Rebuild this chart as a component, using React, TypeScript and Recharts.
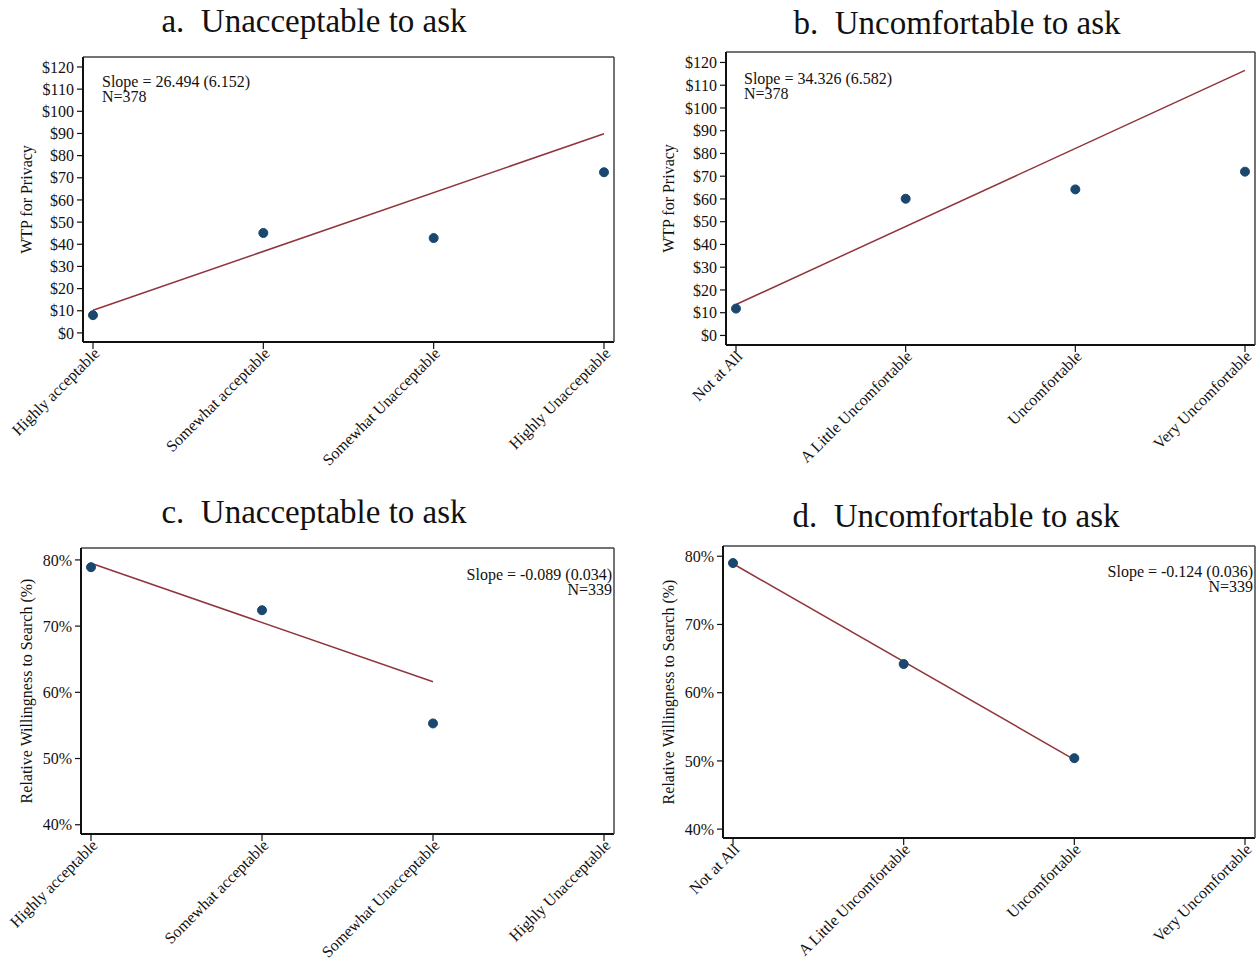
import React from "react";
import { LineChart, Line, XAxis, YAxis } from "recharts";

const acceptCats = ["Highly acceptable", "Somewhat acceptable", "Somewhat Unacceptable", "Highly Unacceptable"];
const comfortCats = ["Not at All", "A Little Uncomfortable", "Uncomfortable", "Very Uncomfortable"];

// WTP for privacy ($)
const wtpAccept = [8.0, 45.1, 42.8, 72.5];
const wtpAcceptFit = [10.2, null, null, 89.9];
const wtpComfort = [11.8, 60.1, 64.2, 72.0];
const wtpComfortFit = [13.6, null, null, 116.5];

// Relative willingness to search (%)
const searchAccept = [78.9, 72.4, 55.3, null];
const searchAcceptFit = [79.5, null, 61.6, null];
const searchComfort = [79.0, 64.2, 50.4, null];
const searchComfortFit = [78.9, null, 50.2, null];

const wtpTicks = [0, 10, 20, 30, 40, 50, 60, 70, 80, 90, 100, 110, 120];
const pctTicks = [40, 50, 60, 70, 80];

const FONT = "'Liberation Serif', 'Times New Roman', serif";
const NAVY = "#1a476f";
const MAROON = "#90353b";

function build(cats: string[], vals: (number | null)[], fit: (number | null)[]) {
  return cats.map((c, i) => ({ cat: c, value: vals[i], fit: fit[i] }));
}

function CatTick(props: any) {
  const { x, y, payload } = props;
  return (
    <g transform={`translate(${x + 4},${y})`}>
      <text
        x={0}
        y={0}
        dy="0.3em"
        textAnchor="end"
        transform="rotate(-45)"
        fontSize={16}
        fontFamily={FONT}
        fill="#111"
      >
        {payload.value}
      </text>
    </g>
  );
}

type PanelProps = {
  left: number;
  top: number;
  width: number;
  height: number;
  yWidth: number;
  margin: { top: number; right: number; bottom: number };
  data: any[];
  domain: [number, number];
  ticks: number[];
  fmt: (v: number) => string;
  yLabel: string;
  labelOffset: number;
};

function Panel(p: PanelProps) {
  return (
    <div style={{ position: "absolute", left: p.left, top: p.top }}>
      <LineChart
        width={p.width}
        height={p.height}
        data={p.data}
        margin={{ top: p.margin.top - 1, right: p.margin.right - 1, bottom: p.margin.bottom, left: 0 }}
      >
        <XAxis
          dataKey="cat"
          interval={0}
          padding={{ left: 10, right: 10 }}
          height={120}
          tickSize={7}
          tickMargin={2}
          axisLine={{ stroke: "#111", strokeWidth: 2 }}
          tickLine={{ stroke: "#111", strokeWidth: 1.2 }}
          tick={<CatTick />}
        />
        {/* top frame of the plot box */}
        <XAxis
          xAxisId="top"
          dataKey="cat"
          orientation="top"
          height={1}
          padding={{ left: 10, right: 10 }}
          tick={false}
          tickLine={false}
          axisLine={{ stroke: "#444", strokeWidth: 1.5 }}
        />
        <YAxis
          width={p.yWidth}
          domain={p.domain}
          ticks={p.ticks}
          interval={0}
          allowDataOverflow
          tickSize={6}
          tickMargin={3}
          tickFormatter={p.fmt}
          axisLine={{ stroke: "#111", strokeWidth: 2 }}
          tickLine={{ stroke: "#111", strokeWidth: 1.2 }}
          tick={{ fontSize: 16, fontFamily: FONT, fill: "#111" }}
          label={{
            value: p.yLabel,
            angle: -90,
            position: "insideLeft",
            offset: p.labelOffset,
            style: { textAnchor: "middle", fontSize: 16, fontFamily: FONT, fill: "#111" },
          }}
        />
        {/* right frame of the plot box */}
        <YAxis
          yAxisId="right"
          orientation="right"
          width={1}
          domain={p.domain}
          allowDataOverflow
          tick={false}
          tickLine={false}
          axisLine={{ stroke: "#444", strokeWidth: 1.5 }}
        />
        <Line
          xAxisId="top"
          yAxisId="right"
          dataKey="fit"
          stroke={MAROON}
          strokeWidth={1.5}
          dot={false}
          connectNulls
          isAnimationActive={false}
        />
        <Line
          dataKey="value"
          stroke="none"
          dot={{ r: 4.5, fill: NAVY, stroke: NAVY, strokeWidth: 1 }}
          activeDot={false}
          isAnimationActive={false}
        />
      </LineChart>
    </div>
  );
}

const titleStyle: React.CSSProperties = {
  position: "absolute",
  width: 600,
  textAlign: "center",
  fontFamily: FONT,
  fontSize: 33,
  color: "#111",
  lineHeight: "36px",
  whiteSpace: "pre",
};

const noteStyle: React.CSSProperties = {
  position: "absolute",
  fontFamily: FONT,
  fontSize: 16,
  lineHeight: "15px",
  color: "#111",
  whiteSpace: "pre",
};

export default function App() {
  const money = (v: number) => `$${v}`;
  const pct = (v: number) => `${v}%`;
  return (
    <div
      style={{
        position: "absolute",
        left: 0,
        top: 0,
        width: 1257,
        height: 962,
        background: "#fff",
        overflow: "hidden",
      }}
    >
      <div style={{ ...titleStyle, left: 14, top: 3 }}>a.  Unacceptable to ask</div>
      <div style={{ ...titleStyle, left: 657, top: 5 }}>b.  Uncomfortable to ask</div>
      <div style={{ ...titleStyle, left: 14, top: 494 }}>c.  Unacceptable to ask</div>
      <div style={{ ...titleStyle, left: 656, top: 498 }}>d.  Uncomfortable to ask</div>

      <Panel
        left={0}
        top={0}
        width={630}
        height={480}
        yWidth={83}
        margin={{ top: 57, right: 16, bottom: 18 }}
        data={build(acceptCats, wtpAccept, wtpAcceptFit)}
        domain={[-4.1, 124.5]}
        ticks={wtpTicks}
        fmt={money}
        yLabel="WTP for Privacy"
        labelOffset={26}
      />
      <Panel
        left={640}
        top={0}
        width={617}
        height={480}
        yWidth={86}
        margin={{ top: 52, right: 2, bottom: 15 }}
        data={build(comfortCats, wtpComfort, wtpComfortFit)}
        domain={[-4.2, 124.6]}
        ticks={wtpTicks}
        fmt={money}
        yLabel="WTP for Privacy"
        labelOffset={28}
      />
      <Panel
        left={0}
        top={490}
        width={630}
        height={472}
        yWidth={81}
        margin={{ top: 58, right: 16, bottom: 8 }}
        data={build(acceptCats, searchAccept, searchAcceptFit)}
        domain={[38.6, 81.8]}
        ticks={pctTicks}
        fmt={pct}
        yLabel="Relative Willingness to Search (%)"
        labelOffset={26}
      />
      <Panel
        left={640}
        top={490}
        width={617}
        height={472}
        yWidth={83}
        margin={{ top: 56, right: 2, bottom: 4 }}
        data={build(comfortCats, searchComfort, searchComfortFit)}
        domain={[38.7, 81.5]}
        ticks={pctTicks}
        fmt={pct}
        yLabel="Relative Willingness to Search (%)"
        labelOffset={28}
      />

      <div style={{ ...noteStyle, left: 102, top: 74 }}>{"Slope = 26.494 (6.152)\nN=378"}</div>
      <div style={{ ...noteStyle, left: 744, top: 71 }}>{"Slope = 34.326 (6.582)\nN=378"}</div>
      <div style={{ ...noteStyle, right: 1257 - 612, top: 567, textAlign: "right" }}>
        {"Slope = -0.089 (0.034)\nN=339"}
      </div>
      <div style={{ ...noteStyle, right: 1257 - 1253, top: 564, textAlign: "right" }}>
        {"Slope = -0.124 (0.036)\nN=339"}
      </div>
    </div>
  );
}
